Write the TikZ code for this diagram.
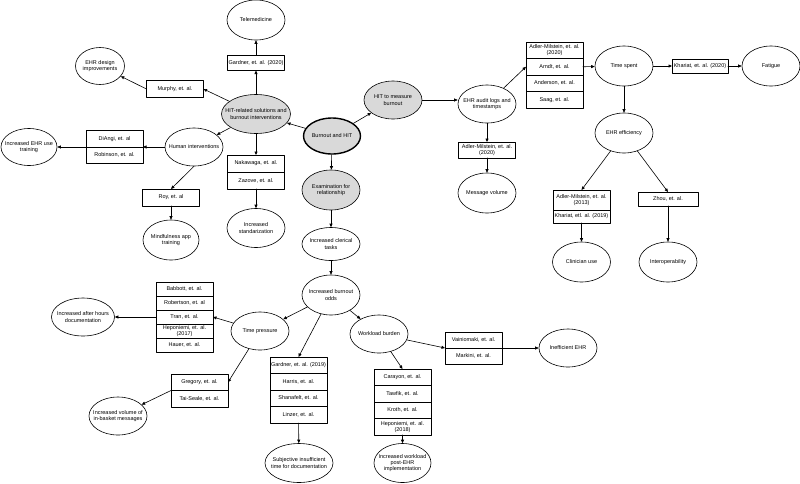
\documentclass[tikz,border=0pt]{standalone}
\usepackage{fontspec}
\newfontfamily\diagfont{Liberation Sans}
\usetikzlibrary{shapes.geometric,positioning,arrows.meta}
\tikzset{
  oval/.style={ellipse,draw,line width=0.6pt,minimum width=58pt,minimum height=38pt,inner sep=0pt},
  hub/.style={oval,fill=gray!30},
  cite/.style={rectangle,draw,line width=0.6pt,minimum width=57pt,minimum height=16.5pt,inner sep=0.5pt,outer sep=0pt,align=center},
  link/.style={line width=0.6pt,-{Triangle[length=3.5pt,width=3pt]}},
  every label/.style={align=center,inner sep=0pt},
}
\begin{document}
\begin{tikzpicture}[x=1pt,y=-1pt,font=\diagfont\fontsize{5.5}{6.3}\selectfont,line cap=round,line join=round]
  \useasboundingbox (0,0) rectangle (800,483);
  % hubs
  \node[hub,line width=1.4pt,minimum width=57pt,minimum height=36pt,label=center:{Burnout and HIT}] (burnout) at (332,136) {};
  \node[hub,minimum width=69pt,minimum height=39pt,label=center:{HIT-related solutions and\\burnout interventions}] (hitsol) at (256,114) {};
  \node[hub,label=center:{HIT to measure\\burnout}] (measure) at (393,100) {};
  \node[hub,minimum height=40pt,label=center:{Examination for\\relationship}] (exam) at (331,190) {};
  % solutions branch
  \node[cite,minimum height=15pt] (gardnerA) at (256,63) {Gardner, et. al. (2020)};
  \node[oval,minimum height=40pt,label=center:{Telemedicine}] (telemed) at (256,20) {};
  \node[cite] (murphy) at (175,89) {Murphy, et. al.};
  \node[oval,minimum width=49pt,minimum height=37pt,label=center:{EHR design\\improvements}] (ehrdesign) at (100,66) {};
  \node[oval,label=center:{Human interventions}] (human) at (194,147) {};
  \node[cite] (diangi) at (114.5,138.75) {DiAngi, et. al};
  \node[cite,below=0pt of diangi] (robinson) {Robinson, et. al.};
  \node[oval,minimum width=56pt,minimum height=37pt,label=center:{Increased EHR use\\training}] (ehruse) at (29,147) {};
  \node[cite,minimum height=17pt] (roy) at (171,197.5) {Roy, et. al};
  \node[oval,minimum width=56pt,minimum height=40pt,label=center:{Mindfulness app\\training}] (mindful) at (171,240) {};
  \node[cite,minimum height=17pt] (nakawaga) at (256,163.5) {Nakawaga, et. al.};
  \node[cite,minimum height=17pt,below=0pt of nakawaga] (zazove) {Zazove, et. al.};
  \node[oval,minimum height=39pt,label=center:{Increased\\standarization}] (standard) at (256,228) {};
  % measurement branch
  \node[oval,label=center:{EHR audit logs and\\timestamps}] (audit) at (487,104) {};
  \node[cite,minimum height=16pt] (adlerB) at (487,150) {Adler-Milstein, et. al.\\(2020)};
  \node[oval,minimum height=40pt,label=center:{Message volume}] (message) at (487,193) {};
  \node[cite] (adlerA) at (554.5,50.25) {Adler-Milstein, et. al.\\(2020)};
  \node[cite,below=0pt of adlerA] (arndt) {Arndt, et. al.};
  \node[cite,below=0pt of arndt] (anderson) {Anderson, et. al.};
  \node[cite,below=0pt of anderson] (saag) {Saag, et. al.};
  \node[oval,minimum height=40pt,label=center:{Time spent}] (time) at (624,66) {};
  \node[cite,minimum width=56pt,minimum height=14pt] (khariatA) at (700,66) {Khariat, et. al. (2020)};
  \node[oval,minimum height=40pt,label=center:{Fatigue}] (fatigue) at (771,66) {};
  \node[oval,minimum height=40pt,label=center:{EHR efficiency}] (eff) at (624,133) {};
  \node[cite,minimum height=20pt] (adlerC) at (581.5,200) {Adler-Milstein, et. al.\\(2013)};
  \node[cite,minimum height=13pt,below=0pt of adlerC] (khariatB) {Khariat, etl. al. (2019)};
  \node[cite,minimum width=60pt,minimum height=14pt] (zhou) at (668,199) {Zhou, et. al.};
  \node[oval,minimum height=40pt,label=center:{Clinician use}] (clinician) at (581.5,262) {};
  \node[oval,minimum height=40pt,label=center:{Interoperability}] (interop) at (668,262) {};
  % relationship branch
  \node[oval,minimum height=33pt,label=center:{Increased clerical\\tasks}] (clerical) at (331,244) {};
  \node[oval,minimum height=40pt,label=center:{Increased burnout\\odds}] (odds) at (331,295) {};
  \node[oval,label=center:{Time pressure}] (timepress) at (260,331) {};
  \node[cite,minimum height=14pt] (babbott) at (184.5,289) {Babbott, et. al.};
  \node[cite,minimum height=14pt,below=0pt of babbott] (robertson) {Robertson, et. al};
  \node[cite,minimum height=14pt,below=0pt of robertson] (tran) {Tran, et. al.};
  \node[cite,minimum height=14pt,below=0pt of tran] (heponiemiA) {Heponiemi, et. al.\\(2017)};
  \node[cite,minimum height=14pt,below=0pt of heponiemiA] (hauer) {Hauer, et. al.};
  \node[oval,minimum width=63pt,label=center:{Increased after hours\\documentation}] (afterhours) at (83,317) {};
  \node[cite] (gregory) at (199.5,382.25) {Gregory, et. al.};
  \node[cite,below=0pt of gregory] (taiseale) {Tai-Seale, et. al.};
  \node[oval,label=center:{Increased volume of\\in-basket messages}] (inbasket) at (118,416) {};
  \node[cite] (gardnerB) at (298.5,365.25) {Gardner, et. al. (2019)};
  \node[cite,below=0pt of gardnerB] (harris) {Harris, et. al.};
  \node[cite,below=0pt of harris] (shanafelt) {Shanafelt, et. al.};
  \node[cite,below=0pt of shanafelt] (linzer) {Linzer, et. al.};
  \node[oval,minimum width=68pt,minimum height=39pt,label=center:{Subjective insufficient\\time for documentation}] (subjective) at (299,463) {};
  \node[oval,label=center:{Workload burden}] (workload) at (379,334) {};
  \node[cite] (carayon) at (402.5,377.25) {Carayon, et. al.};
  \node[cite,below=0pt of carayon] (tawfik) {Tawfik, et. al.};
  \node[cite,below=0pt of tawfik] (kroth) {Kroth, et. al.};
  \node[cite,below=0pt of kroth] (heponiemiB) {Heponiemi, et. al.\\(2018)};
  \node[oval,minimum width=57pt,minimum height=39pt,label=center:{Increased workload\\post-EHR\\implementation}] (postehr) at (402.5,463) {};
  \node[cite,minimum height=16pt] (vainio) at (473.5,340) {Vainiomaki, et. al.};
  \node[cite,minimum height=16pt,below=0pt of vainio] (markini) {Markini, et. al.};
  \node[oval,label=center:{Inefficient EHR}] (inefficient) at (568,348) {};
  % connectors
  \draw[link] (burnout) -- (hitsol);
  \draw[link] (burnout) -- (measure);
  \draw[link] (burnout) -- (exam);
  \draw[link] (hitsol) -- (gardnerA);
  \draw[link] (gardnerA) -- (telemed);
  \draw[link] (hitsol) -- (murphy.east);
  \draw[link] (murphy.west) -- (ehrdesign);
  \draw[link] (hitsol) -- (human);
  \draw[link] (human.west) -- (diangi.south east);
  \draw[link] (diangi.south west) -- (ehruse);
  \draw[link] (human.south) -- (roy.north);
  \draw[link] (roy) -- (mindful);
  \draw[link] (hitsol) -- (nakawaga);
  \draw[link] (zazove) -- (standard);
  \draw[link] (measure.east) -- (measure.east -| audit.west);
  \draw[link] (audit) -- (arndt.west);
  \draw[link] (audit) -- (adlerB);
  \draw[link] (adlerB) -- (message);
  \draw[link] (arndt.east) -- (time);
  \draw[link] (time) -- (khariatA);
  \draw[link] (khariatA) -- (fatigue);
  \draw[link] (time) -- (eff);
  \draw[link] (eff) -- (adlerC.north);
  \draw[link] (eff) -- (zhou.north);
  \draw[link] (khariatB) -- (clinician);
  \draw[link] (zhou) -- (interop);
  \draw[link] (exam) -- (clerical);
  \draw[link] (clerical) -- (odds);
  \draw[link] (odds) -- (timepress);
  \draw[link] (odds) -- (gardnerB.north);
  \draw[link] (odds) -- (workload);
  \draw[link] (timepress) -- (tran.east);
  \draw[link] (tran.west) -- (afterhours);
  \draw[link] (timepress) -- (gregory.east);
  \draw[link] (gregory.south west) -- (inbasket);
  \draw[link] (linzer) -- (subjective);
  \draw[link] (workload) -- (carayon.north);
  \draw[link] (heponiemiB) -- (postehr);
  \draw[link] (workload) -- (vainio.south west);
  \draw[link] (vainio.south east) -- (inefficient);
\end{tikzpicture}
\end{document}
